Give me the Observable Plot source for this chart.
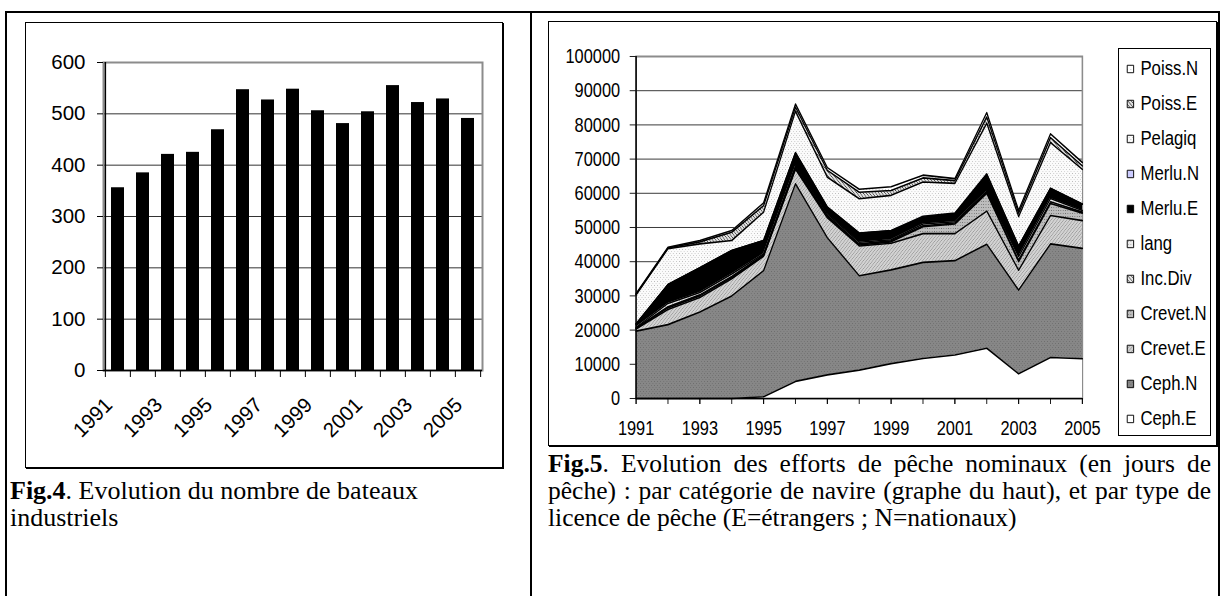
<!DOCTYPE html>
<html><head><meta charset="utf-8">
<script src="https://cdn.jsdelivr.net/npm/d3@7"></script>
<script src="https://cdn.jsdelivr.net/npm/@observablehq/plot@0.6"></script>
<style>
body{margin:0;background:#fff;width:1221px;height:596px;overflow:hidden;position:relative;font-family:Arial,"Liberation Sans",sans-serif;}
svg{max-width:none !important}
.frame{position:absolute;left:5px;top:11px;width:1215px;height:620px;border:2px solid #000;box-sizing:border-box;}
.divider{position:absolute;left:530px;top:11px;width:2px;height:620px;background:#000;}
.box{position:absolute;border:1px solid #000;box-shadow:1px 1px 0 #000;background:#fff;box-sizing:border-box}
.cap{position:absolute;font-family:"Liberation Serif","Times New Roman",serif;line-height:27px;color:#000}
.j{text-align:justify;text-align-last:justify}
.abs{position:absolute}
</style></head>
<body>
<svg width="0" height="0" style="position:absolute">
<defs>
<pattern id="pCephN" width="4" height="4" patternUnits="userSpaceOnUse"><rect width="4" height="4" fill="#878787"/><rect width="1" height="1" fill="#6c6c6c"/><rect x="2" y="2" width="1" height="1" fill="#6c6c6c"/></pattern>
<pattern id="pCrevE" width="4" height="4" patternUnits="userSpaceOnUse"><rect width="4" height="4" fill="#d2d2d2"/><path d="M0,4L4,0" stroke="#9c9c9c" stroke-width="1"/></pattern>
<pattern id="pCrevN" width="3" height="3" patternUnits="userSpaceOnUse"><rect width="3" height="3" fill="#bdbdbd"/><rect width="1" height="1" fill="#6f6f6f"/></pattern>
<pattern id="pInc" width="4" height="4" patternUnits="userSpaceOnUse"><rect width="4" height="4" fill="#e6e6e6"/><path d="M0,0L4,4" stroke="#555" stroke-width="1"/></pattern>
<pattern id="pLang" width="3" height="3" patternUnits="userSpaceOnUse"><rect width="3" height="3" fill="#ececec"/><rect width="1" height="1" fill="#a8a8a8"/></pattern>
<pattern id="pPel" width="4" height="4" patternUnits="userSpaceOnUse"><rect width="4" height="4" fill="#fbfbfb"/><rect width="1" height="1" fill="#b8b8b8"/><rect x="2" y="2" width="1" height="1" fill="#c8c8c8"/></pattern>
<pattern id="pPoisE" width="4" height="4" patternUnits="userSpaceOnUse"><rect width="4" height="4" fill="#e0e0e0"/><path d="M0,0L4,4" stroke="#444" stroke-width="1"/></pattern>
<pattern id="pPoisN" width="4" height="4" patternUnits="userSpaceOnUse"><rect width="4" height="4" fill="#ffffff"/><rect width="1" height="1" fill="#bbbbbb"/></pattern>
</defs></svg>

<div class="frame"></div>
<div class="divider"></div>
<div class="box" style="left:25px;top:22px;width:478px;height:446px"></div>
<div class="box" style="left:548px;top:21px;width:669px;height:425px"></div>
<div id="left" class="abs" style="left:25px;top:22px;width:478px;height:446px"></div>
<div id="right" class="abs" style="left:548px;top:21px;width:669px;height:424px"></div>
<div class="abs" style="left:1118px;top:48px;width:93px;height:388px;border:1px solid #000;box-sizing:border-box;background:#fff"></div>
<div id="legend" class="abs" style="left:1118px;top:48px;width:93px;height:388px"></div>
<div class="cap" style="left:10px;top:477px;font-size:26px;white-space:nowrap"><b>Fig.4</b>. Evolution du nombre de bateaux<br>industriels</div>
<div class="cap" style="left:548px;top:450px;font-size:25.5px;width:663px">
<div class="j"><b>Fig.5</b>. Evolution des efforts de pêche nominaux (en jours de</div>
<div class="j">pêche) : par catégorie de navire (graphe du haut), et par type de</div>
<div>licence de pêche (E=étrangers ; N=nationaux)</div>
</div>

<script>
// ---------- Data ----------
const years = [1991,1992,1993,1994,1995,1996,1997,1998,1999,2000,2001,2002,2003,2004,2005];
const boats = [356,385,421,425,469,547,527,548,506,481,504,555,522,529,491];
const boatTicks = [0,100,200,300,400,500,600];
const oddYears = [1991,1993,1995,1997,1999,2001,2003,2005];
const effortTicks = [0,10000,20000,30000,40000,50000,60000,70000,80000,90000,100000];

const seriesNames = ["Ceph.E","Ceph.N","Crevet.E","Crevet.N","Inc.Div","lang","Merlu.E","Merlu.N","Pelagiq","Poiss.E","Poiss.N"];
const cephE   = [0,0,0,0,500,5000,6900,8300,10200,11700,12700,14700,7200,12000,11600];
const cephN   = [19700,21600,25300,30000,36900,57800,40100,27600,27400,28100,27600,30400,24500,33200,32300];
const crevetE = [600,4400,4200,5000,4200,4200,5800,8700,7800,8400,7900,9700,5800,8300,8100];
const crevetN = [200,500,500,400,200,300,400,300,400,2000,2800,5200,2500,3500,2200];
const incDiv  = [100,300,300,300,200,300,300,300,300,300,300,300,500,500,300];
const lang    = [200,1000,700,700,300,400,500,500,300,500,400,300,1000,1000,500];
const merluE  = [1000,5500,7200,6900,3900,3800,1900,2600,2600,2000,2300,4900,3000,2900,1800];
const merluN  = [0,0,0,0,0,100,100,100,100,300,200,200,100,100,100];
const pelagiq = [8500,10500,7000,2900,8300,12100,8700,10000,10300,10000,8700,14800,8600,13300,10100];
const poissE  = [200,200,600,2400,1900,1200,2000,1900,1400,1200,800,1800,1000,1500,1000];
const poissN  = [200,200,400,500,800,900,800,900,1100,800,600,1300,800,1100,1000];
const seriesValues = [cephE,cephN,crevetE,crevetN,incDiv,lang,merluE,merluN,pelagiq,poissE,poissN];
const seriesFills = ["#ffffff","url(#pCephN)","url(#pCrevE)","url(#pCrevN)","url(#pInc)","url(#pLang)","#000000","#ccccff","url(#pPel)","url(#pPoisE)","url(#pPoisN)"];

const FONT = "Arial, 'Liberation Sans', sans-serif";

// ---------- Left chart: bars ----------
const boatData = years.map((y,i)=>({year:y, n:boats[i]}));
const LW = 478, LH = 446, lML = 78, lMR = 21, lMT = 40, lMB = 98;
const step = (LW - lML - lMR) / years.length;
const left = Plot.plot({
  width: LW, height: LH, marginLeft: lML, marginRight: lMR, marginTop: lMT, marginBottom: lMB,
  style: {background: "transparent", fontFamily: FONT, color: "#000", overflow: "visible"},
  x: {type: "band", domain: years, paddingInner: 0.5, paddingOuter: 0.25, label: null},
  y: {domain: [0, 600], label: null},
  marks: [
    Plot.ruleY(boatTicks.slice(1, -1), {stroke: "#333", strokeWidth: 1}),
    Plot.frame({stroke: "#8c8c8c", strokeWidth: 2}),
    Plot.barY(boatData, {x: "year", y: "n", fill: "#000"}),
    Plot.ruleY([0], {stroke: "#000", strokeWidth: 1.5}),
    Plot.ruleX([years[0]], {dx: -step/2, stroke: "#000", strokeWidth: 1.5}),
    Plot.axisY({ticks: boatTicks, tickSize: 6, tickPadding: 12, fontSize: 20.5, label: null, tickFormat: d => String(d)}),
    Plot.axisX({ticks: years, tickSize: 7, label: null, tickFormat: () => "", dx: -step/2}),
    Plot.axisX({ticks: [years[years.length-1]], tickSize: 7, label: null, tickFormat: () => "", dx: step/2}),
    Plot.axisX({ticks: oddYears, tickSize: 0, tickPadding: 31, dx: -9, tickRotate: -45, fontSize: 20.5, label: null, tickFormat: d => String(d)})
  ]
});
document.getElementById("left").append(left);

// ---------- Right chart: stacked areas ----------
const effort = [];
seriesNames.forEach((s, j) => years.forEach((y, i) => effort.push({year: y, series: s, value: seriesValues[j][i]})));
const k = 0.78;
const RBW = 669, RH = 424;
const RW = RBW / k;
const right = Plot.plot({
  width: RW, height: RH,
  marginLeft: (635.7 - 548) / k, marginRight: (1217 - 1082) / k, marginTop: 35, marginBottom: RH - (398 - 21),
  style: {background: "transparent", fontFamily: FONT, color: "#000", overflow: "visible"},
  x: {domain: [1991, 2005], label: null},
  y: {domain: [0, 100000], label: null},
  color: {domain: seriesNames, range: seriesFills},
  marks: [
    Plot.ruleY(effortTicks.slice(1, -1), {stroke: "#222", strokeWidth: 1}),
    Plot.frame({stroke: "#8c8c8c", strokeWidth: 2}),
    Plot.areaY(effort, {x: "year", y: "value", z: "series", fill: "series", order: seriesNames}),
    Plot.lineY(effort, Plot.stackY2({x: "year", y: "value", z: "series", order: seriesNames, stroke: "#000", strokeWidth: 1.6})),
    Plot.ruleY([0], {stroke: "#000", strokeWidth: 1.5}),
    Plot.ruleX([1991], {stroke: "#000", strokeWidth: 1.5 / k}),
    Plot.axisY({ticks: effortTicks, tickSize: 6 / k, tickPadding: 10 / k, fontSize: 21, label: null, tickFormat: d => String(d)}),
    Plot.axisX({ticks: years, tickSize: 6, label: null, tickFormat: () => ""}),
    Plot.axisX({ticks: oddYears, tickSize: 6, tickPadding: 16, fontSize: 21, label: null, tickFormat: d => String(d)})
  ]
});
right.style.transform = `scaleX(${k})`;
right.style.transformOrigin = "0 0";
document.getElementById("right").append(right);

// ---------- Legend ----------
const kL = 0.86;
const legendOrder = seriesNames.slice().reverse();
const legend = Plot.plot({
  width: 93 / kL, height: 388,
  marginLeft: 12 / kL, marginRight: 0, marginTop: 2.5, marginBottom: 0.5,
  style: {background: "transparent", fontFamily: FONT, color: "#000", overflow: "visible"},
  x: {domain: [0, 1], axis: null},
  y: {type: "band", domain: legendOrder, padding: 0, axis: null},
  color: {domain: seriesNames, range: seriesFills},
  marks: [
    Plot.dot(legendOrder, {x: () => 0, y: d => d, fill: d => d, symbol: "square", r: 4.2, stroke: "#000", strokeWidth: 1}),
    Plot.text(legendOrder, {x: () => 0, y: d => d, text: d => d, dx: 10 / kL, textAnchor: "start", fontSize: 19.5, fill: "#000"})
  ]
});
legend.style.transform = `scaleX(${kL})`;
legend.style.transformOrigin = "0 0";
document.getElementById("legend").append(legend);
</script>
</body></html>
